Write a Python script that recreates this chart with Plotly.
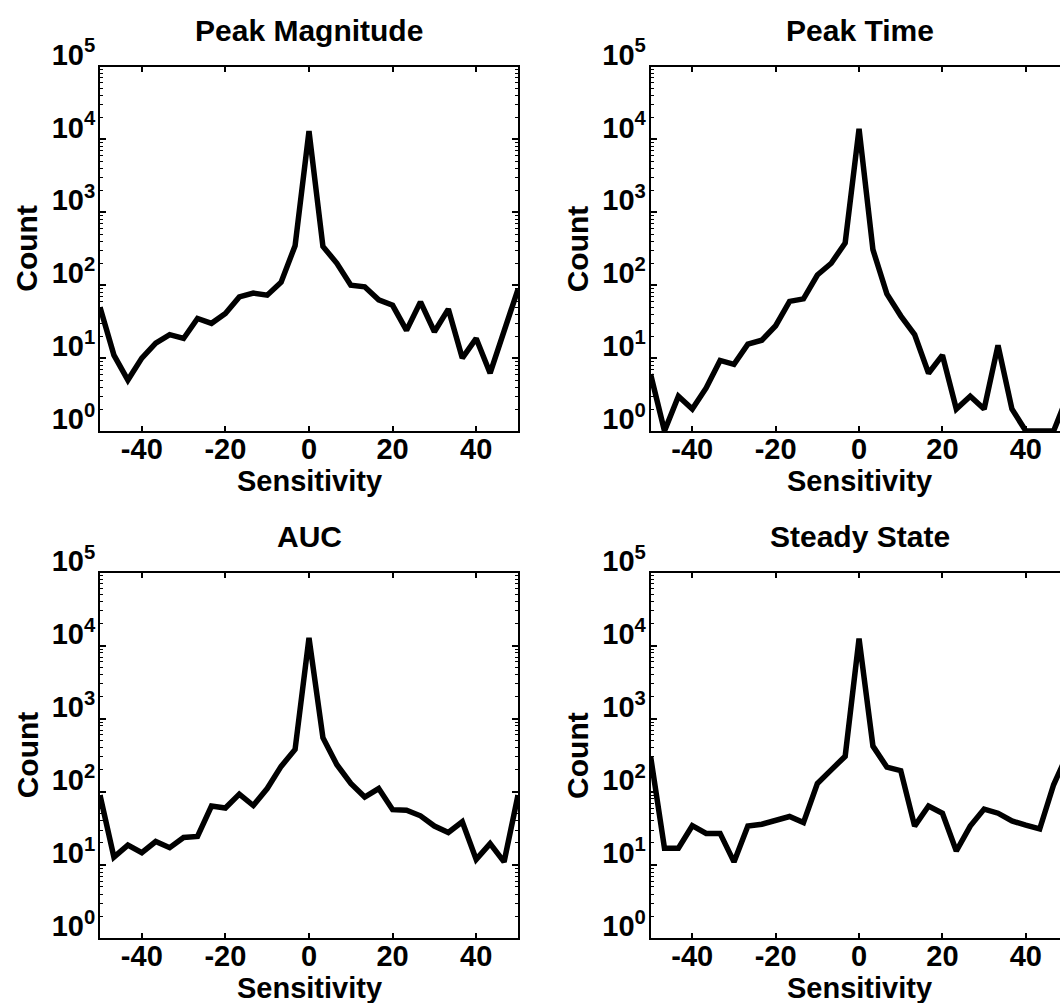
import plotly.graph_objects as go

# Bin centers (Sensitivity)
sensitivity = [-50.0, -46.67, -43.33, -40.0, -36.67, -33.33, -30.0, -26.67, -23.33, -20.0,
               -16.67, -13.33, -10.0, -6.67, -3.33, 0.0, 3.33, 6.67, 10.0, 13.33,
               16.67, 20.0, 23.33, 26.67, 30.0, 33.33, 36.67, 40.0, 43.33, 46.67, 50.0]

peak_magnitude = [50, 11, 5, 10, 16, 21, 18.6, 35, 30, 41,
                  69, 78, 73, 110, 348, 13000, 340, 200, 100, 95,
                  63, 53, 24, 59, 23, 47, 10, 18.6, 6.2, 24, 88]

peak_time = [6, 1, 3, 2, 3.9, 9.3, 8.2, 15.5, 17.6, 27.8,
             60, 65, 138, 200, 380, 14000, 307, 76, 38, 21,
             6.2, 11, 2, 3, 2, 15, 2, 1, 1, 1, 3]

auc = [90, 12.8, 18.7, 14.7, 20.9, 17.2, 23.7, 24.5, 64, 60,
       93, 65, 111, 223, 380, 12800, 550, 235, 130, 85,
       111, 57, 56, 47, 34, 27.8, 39, 11.9, 19.6, 11, 90]

steady_state = [306, 16.9, 16.9, 34.4, 27, 27, 11, 34, 36, 40,
                46, 38, 130, 200, 306, 12500, 422, 218, 195, 34,
                64, 51, 15.5, 34, 58, 51, 40, 35, 31, 125, 330]

titles = ["Peak Magnitude", "Peak Time", "AUC", "Steady State"]
series = [peak_magnitude, peak_time, auc, steady_state]

x_ticks = [-40, -20, 0, 20, 40]
x_ticktext = ["-40", "-20", "0", "20", "40"]
y_ticks = [1, 10, 100, 1000, 10000, 100000]
y_ticktext = ["10<sup>0</sup>", "10<sup>1</sup>", "10<sup>2</sup>",
              "10<sup>3</sup>", "10<sup>4</sup>", "10<sup>5</sup>"]
y_minor = [m * 10 ** e for e in range(5) for m in range(2, 10)]

W, H = 1060, 1003
FONT = "Liberation Sans, Arial, Helvetica, sans-serif"

# pixel layout of the four axes boxes (left, right, top, bottom)
boxes = [
    (100, 518, 66.5, 431),
    (650.6, 1060, 66.5, 431),
    (100, 518, 572.6, 938),
    (650.6, 1060, 572.6, 938),
]
x_ranges = [[-50, 50], [-50, 48.2], [-50, 50], [-50, 48.2]]
full_width = 418

fig = go.Figure()
annotations = []
for i, (name, vals) in enumerate(zip(titles, series)):
    n = "" if i == 0 else str(i + 1)
    fig.add_trace(go.Scatter(x=sensitivity, y=vals, mode="lines",
                             line=dict(color="black", width=5.5),
                             xaxis="x" + n, yaxis="y" + n, showlegend=False,
                             hoverinfo="skip"))
    l, r, t, b = boxes[i]
    right_panel = i in (1, 3)
    fig.layout["xaxis" + n] = dict(
        domain=[l / W, r / W], anchor="y" + n, range=x_ranges[i], automargin=False,
        tickvals=x_ticks, ticktext=x_ticktext, ticks="inside", ticklen=5, tickwidth=1.5,
        tickcolor="black",
        showline=True, linecolor="black", linewidth=2, mirror="ticks",
        showgrid=False, zeroline=False,
        tickfont=dict(family=FONT, size=29, color="black", weight="bold"),
        ticklabelstandoff=-9,
    )
    fig.layout["yaxis" + n] = dict(
        domain=[1 - b / H, 1 - t / H], anchor="x" + n, type="log", range=[0, 5],
        automargin=False,
        tickvals=y_ticks, ticktext=y_ticktext, ticks="inside", ticklen=6, tickwidth=1.5,
        tickcolor="black",
        minor=dict(tickvals=y_minor, ticks="inside", ticklen=3, tickwidth=1, tickcolor="black",
                   showgrid=False),
        showline=True, linecolor="black", linewidth=2,
        mirror=False if right_panel else "ticks",
        showgrid=False, zeroline=False,
        tickfont=dict(family=FONT, size=29, color="black", weight="bold"),
        ticklabelstandoff=-3,
        ticklabelshift=-12,
    )
    cx = (l + full_width / 2) / W
    annotations.append(dict(text=name, x=cx, y=1 - (t - 36) / H, xref="paper", yref="paper",
                            xanchor="center", yanchor="middle", showarrow=False,
                            font=dict(family=FONT, size=30, color="black", weight="bold")))
    annotations.append(dict(text="Sensitivity", x=cx, y=1 - (b + 50) / H, xref="paper", yref="paper",
                            xanchor="center", yanchor="middle", showarrow=False,
                            font=dict(family=FONT, size=29, color="black", weight="bold")))
    annotations.append(dict(text="Count", x=(l - 73) / W, y=1 - ((t + b) / 2) / H,
                            xref="paper", yref="paper", textangle=-90,
                            xanchor="center", yanchor="middle", showarrow=False,
                            font=dict(family=FONT, size=30, color="black", weight="bold")))

fig.update_layout(width=W, height=H, margin=dict(l=0, r=0, t=0, b=0, autoexpand=False),
                  paper_bgcolor="white", plot_bgcolor="white",
                  annotations=annotations, hovermode=False)

fig.write_html("out.html", config={"displayModeBar": False},
               post_script="document.body.style.margin='0';"
                           "document.body.style.overflow='hidden';"
                           "document.documentElement.style.overflow='hidden';")
